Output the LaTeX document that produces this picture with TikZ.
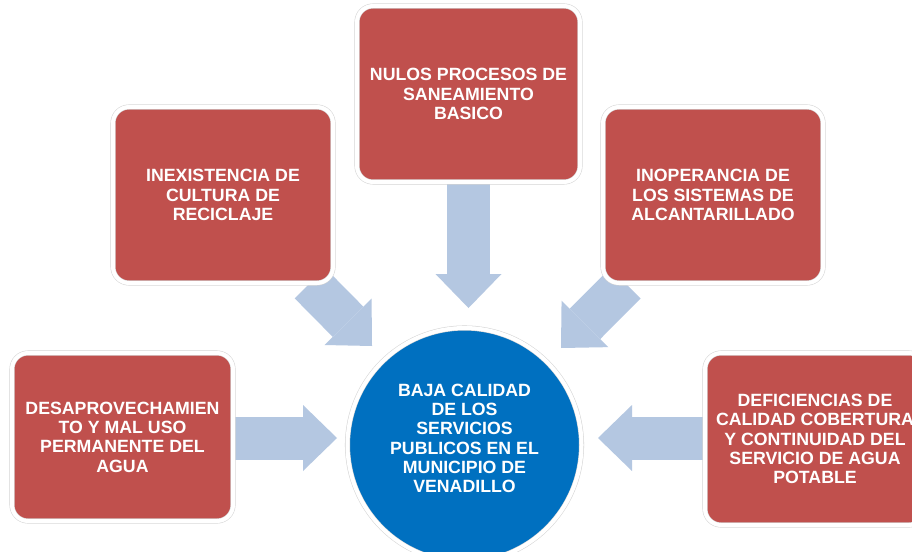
\documentclass[tikz,border=0pt]{standalone}
\usepackage{fontspec}
\setmainfont{Liberation Sans}
\usetikzlibrary{arrows.meta,backgrounds}
\definecolor{boxred}{RGB}{192,80,77}
\definecolor{circblue}{RGB}{0,112,192}
\definecolor{arrowblue}{RGB}{180,199,225}
\definecolor{rimgray}{RGB}{212,212,212}
\begin{document}
\begin{tikzpicture}[x=0.75pt,y=-0.75pt,
  boxtext/.style={text=white, font=\bfseries\fontsize{13.3}{14.5}\selectfont, align=center},
  causebox/.style={boxtext, rectangle, rounded corners=12pt, fill=boxred, draw=rimgray,
    double=white, double distance=3pt, line width=0.4pt, inner sep=0pt},
  effectcircle/.style={circle, fill=circblue, draw=rimgray, double=white,
    double distance=3pt, line width=0.4pt, minimum size=175.5pt, inner sep=0pt},
  blockarrow/.style={draw=arrowblue, line width=32.25pt,
    -{Triangle[length=25.5pt,width=49.5pt,line width=0pt]}}
]
\useasboundingbox (0,0) rectangle (912,552);
\clip (0,0) rectangle (912,552);

% cause boxes
\node[causebox, minimum width=167.25pt, minimum height=132pt] (top) at (468.5,94)
  {NULOS PROCESOS DE\\SANEAMIENTO\\BASICO};
\node[causebox, minimum width=165pt, minimum height=132pt] (tl) at (223,195)
  {INEXISTENCIA DE\\CULTURA DE\\RECICLAJE};
\node[causebox, minimum width=165pt, minimum height=132pt] (tr) at (713,195)
  {INOPERANCIA DE\\LOS SISTEMAS DE\\ALCANTARILLADO};
\node[causebox, minimum width=165.75pt, minimum height=126pt] (bl) at (122.5,437)
  {DESAPROVECHAMIEN\\TO Y MAL USO\\PERMANENTE DEL\\AGUA};
\node[causebox, minimum width=165pt, minimum height=129pt] (br) at (815,439)
  {DEFICIENCIAS DE\\CALIDAD COBERTURA\\Y CONTINUIDAD DEL\\SERVICIO DE AGUA\\POTABLE};

% effect circle
\node[effectcircle] (effect) at (464.5,445) {};
\node[boxtext] (effecttext) at (464.5,438.5)
  {BAJA CALIDAD\\DE LOS\\SERVICIOS\\PUBLICOS EN EL\\MUNICIPIO DE\\VENADILLO};

% arrow tips
\coordinate (ttop) at (468.5,308);
\coordinate (ttl) at (372,346);
\coordinate (ttr) at (561,348);
\coordinate (tbl) at (337,438);
\coordinate (tbr) at (598,438);

\begin{scope}[on background layer]
  \fill[white] (0,0) rectangle (912,552);
  \draw[blockarrow] (top) -- (ttop);
  \draw[blockarrow] (tl) -- (ttl);
  \draw[blockarrow] (tr) -- (ttr);
  \draw[blockarrow] (bl.east |- tbl) -- (tbl);
  \draw[blockarrow] (br.west |- tbr) -- (tbr);
\end{scope}
\end{tikzpicture}
\end{document}
